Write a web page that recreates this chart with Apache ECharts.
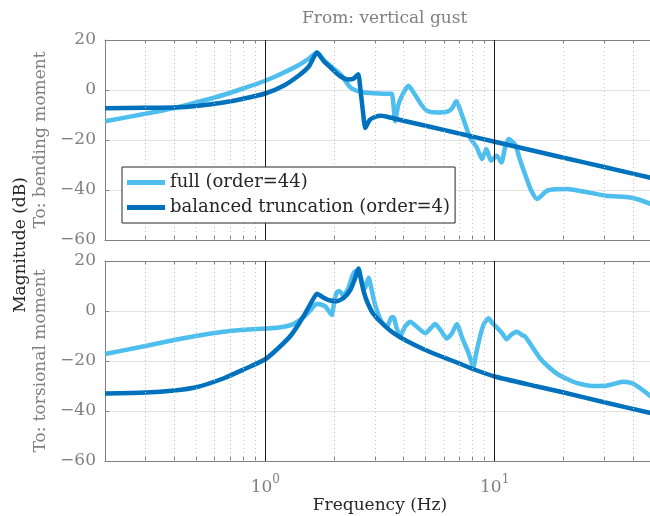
<!DOCTYPE html>
<html>
<head>
<meta charset="utf-8">
<script src="https://cdn.jsdelivr.net/npm/echarts@6/dist/echarts.min.js"></script>
<style>html,body{margin:0;padding:0;background:#fff}#c{width:650px;height:516px}</style>
</head>
<body>
<div id="c"></div>
<script>
// ---- data (frequency in Hz, magnitude in dB) ----
const seriesNames = ['full (order=44)', 'balanced truncation (order=4)'];

const bendFullFreq = [0.2,0.3,0.4,0.5,0.656,0.8,1,1.2,1.4,1.55,1.68,1.8,1.92,2.12,2.35,2.5,2.7,3.0,3.3,3.55,3.62,3.68,3.8,3.98,4.21,4.5,4.8,5.06,5.6,6.18,6.5,6.8,7.2,7.8,8.36,8.8,9.2,9.64,10.2,10.7,11.1,11.5,12.3,12.9,13.6,14.4,15.3,16.9,18.5,20.6,24,30.6,38.9,44,50];
const bendFullDb   = [-12.5,-9.5,-7.2,-5,-2,0.6,3.7,6.9,10,12.6,15,12,9.7,6.4,1,-0.3,-1,-1.3,-1.5,-1.5,-6,-12.5,-6,-1.5,1.7,-2,-6,-8.3,-9,-8.7,-7.5,-4.5,-10,-19,-23,-27.6,-23.6,-28.3,-26.3,-29,-23,-19.6,-22,-28,-34,-40,-43.6,-40.3,-39.7,-39.6,-40.5,-42.3,-43,-44.3,-46.3];

const bendBalFreq = [0.2,0.3,0.4,0.5,0.656,0.8,1,1.2,1.4,1.55,1.68,1.8,1.95,2.1,2.3,2.42,2.54,2.6,2.66,2.73,2.85,3.0,3.2,3.5,4,5,7,10,20,30,50];
const bendBalDb   = [-7.3,-7.1,-7.0,-6.4,-5,-3.5,-1.4,1.7,5.8,9.5,15,11.5,8.5,5.8,4.2,4.5,6.3,0,-8,-15.2,-12,-10.8,-10.3,-11,-12.3,-14.3,-17.4,-20.7,-27.1,-30.8,-35.5];

const torsFullFreq = [0.2,0.3,0.4,0.5,0.656,0.8,1,1.15,1.285,1.38,1.47,1.58,1.68,1.76,1.83,1.9,1.95,2.0,2.05,2.1,2.19,2.3,2.39,2.47,2.55,2.65,2.72,2.82,2.9,3.0,3.1,3.2,3.39,3.55,3.62,3.73,3.87,4.05,4.28,4.6,4.98,5.25,5.5,5.85,6.18,6.5,6.84,7.2,7.7,8.08,8.3,8.7,9.0,9.4,9.8,10.2,10.8,11.3,11.8,12.5,13.1,13.6,14.5,15.8,17.4,19,22,24.5,27,31,36.4,40,44,50];
const torsFullDb   = [-17.2,-14,-11.6,-10,-8.3,-7.5,-7,-6.6,-5.7,-4.3,-2.4,0.5,2.9,2.5,1.8,-0.3,-1.6,4,7.5,8,6.3,9,13.8,16,15.5,11.5,9,13.3,9,3,-1,-4,-6.4,-2.5,-2.5,-6.5,-10.3,-6.5,-4.3,-6.5,-8.9,-7,-5.2,-8,-11,-9,-5.2,-10.5,-17,-22.3,-17,-9,-5,-2.9,-5,-6.5,-9,-11.3,-9.5,-8.3,-9.5,-10.3,-14,-19,-22.8,-25.5,-28.3,-29.5,-30,-29.8,-28.3,-29,-31.5,-35.5];

const torsBalFreq = [0.2,0.3,0.4,0.5,0.656,0.8,1,1.15,1.3,1.47,1.6,1.68,1.78,1.9,2.05,2.2,2.35,2.45,2.55,2.62,2.7,2.8,2.95,3.17,3.5,3.87,4.14,4.9,5.78,6.84,8.2,10,15,20,30,50];
const torsBalDb   = [-33,-32.6,-31.8,-30.5,-27,-23.5,-19.3,-14.5,-9.5,-2,4,6.9,5.5,4.3,3.9,5.3,8.5,12.5,17,12,7,3,-1,-4.2,-7.8,-10.5,-12,-15.3,-18,-20.6,-23.5,-26.2,-30,-32.6,-36.5,-41.2];

const majorFreqs = [1, 10];
const minorFreqs = [0.3,0.4,0.5,0.6,0.7,0.8,0.9,2,3,4,5,6,7,8,9,20,30,40];
const yTicks = [-60, -40, -20, 0, 20];
const panelNames = ['To: bending moment', 'To: torsional moment'];

// ---- styles ----
const FONT = 'DejaVu Serif';
const GRAY = '#808080';
const INK = '#262626';
const LIGHT = '#4DBEEE';
const DARK = '#0072BD';

const zip = (f, d) => f.map((v, i) => [v, d[i]]);
const isPow10 = v => Math.abs(Math.log10(v) - Math.round(Math.log10(v))) < 1e-6;

const grids = [
  {left: 105, width: 550, top: 40, height: 200, outerBoundsMode: 'none', containLabel: false},
  {left: 105, width: 550, top: 261, height: 200, outerBoundsMode: 'none', containLabel: false}
];

function xAxisFor(g, pos, labels) {
  return {
    type: 'log', logBase: 10, gridIndex: g, position: pos, min: 0.2, max: 50,
    axisLine: {show: true, onZero: false, lineStyle: {color: GRAY, width: 1}},
    axisTick: {show: true, inside: true, length: 4, customValues: minorFreqs.concat(majorFreqs), lineStyle: {color: GRAY}},
    splitLine: {show: false},
    axisLabel: {
      show: labels, margin: 13, customValues: majorFreqs,
      formatter: v => isPow10(v) ? '{b|10}{s|' + Math.round(Math.log10(v)) + '}' : '',
      rich: {
        b: {fontFamily: FONT, fontSize: 17, color: GRAY, lineHeight: 22, verticalAlign: 'bottom'},
        s: {fontFamily: FONT, fontSize: 12, color: GRAY, lineHeight: 12, verticalAlign: 'top'}
      }
    },
    name: labels ? 'Frequency (Hz)' : '',
    nameLocation: 'middle', nameGap: 34,
    nameTextStyle: {fontFamily: FONT, fontSize: 17, color: INK}
  };
}

function yAxisFor(g) {
  return {
    type: 'value', gridIndex: g, min: -60, max: 20, interval: 20,
    axisLine: {show: true, lineStyle: {color: GRAY, width: 1}},
    axisTick: {show: true, inside: true, length: 4, lineStyle: {color: GRAY}},
    axisLabel: {
      fontFamily: FONT, fontSize: 17, color: GRAY, margin: 9,
      formatter: v => v < 0 ? '\u2212' + (-v) : String(v)
    },
    splitLine: {show: true, showMinLine: false, showMaxLine: false, lineStyle: {color: '#e2e2e2', width: 1}},
    name: panelNames[g], nameLocation: 'middle', nameGap: 50, nameRotate: 90,
    nameTextStyle: {fontFamily: FONT, fontSize: 17, color: GRAY}
  };
}

function gridLinesSeries(g) {
  return {
    type: 'line', xAxisIndex: g, yAxisIndex: g, data: [], z: 1, silent: true,
    markLine: {
      silent: true, symbol: ['none', 'none'], label: {show: false}, animation: false,
      data: minorFreqs.map(v => ({xAxis: v, lineStyle: {color: '#c4c4c4', width: 1, type: [1, 3]}}))
        .concat(majorFreqs.map(v => ({xAxis: v, lineStyle: {color: '#1a1a1a', width: 1, type: 'solid'}})))
    }
  };
}

function curve(name, color, g, f, d) {
  return {
    name, type: 'line', xAxisIndex: g, yAxisIndex: g, data: zip(f, d),
    showSymbol: false, symbol: 'none', smooth: 0.2, z: 3, clip: true,
    lineStyle: {color, width: 4.5}, itemStyle: {color}
  };
}

const option = {
  animation: false,
  backgroundColor: '#fff',
  title: {
    text: 'From: vertical gust', left: 297, top: 5,
    textStyle: {fontFamily: FONT, fontSize: 17, fontWeight: 'normal', color: GRAY}
  },
  grid: grids,
  xAxis: [xAxisFor(0, 'bottom', false), xAxisFor(1, 'bottom', true), xAxisFor(0, 'top', false), xAxisFor(1, 'top', false)],
  yAxis: [yAxisFor(0), yAxisFor(1)],
  legend: {
    left: 122, top: 167, orient: 'vertical', itemGap: 0, padding: [3, 5, 3, 5],
    borderColor: INK, borderWidth: 1, backgroundColor: '#fff', z: 10,
    icon: 'rect', itemWidth: 38, itemHeight: 5,
    textStyle: {fontFamily: FONT, fontSize: 18, color: INK, lineHeight: 25},
    data: seriesNames
  },
  graphic: [{
    type: 'text', x: 21, y: 245, rotation: Math.PI / 2,
    style: {text: 'Magnitude (dB)', fontFamily: FONT, fontSize: 17, fill: INK, align: 'center', verticalAlign: 'middle'}
  }],
  series: [
    gridLinesSeries(0), gridLinesSeries(1),
    curve(seriesNames[0], LIGHT, 0, bendFullFreq, bendFullDb),
    curve(seriesNames[1], DARK, 0, bendBalFreq, bendBalDb),
    curve(seriesNames[0], LIGHT, 1, torsFullFreq, torsFullDb),
    curve(seriesNames[1], DARK, 1, torsBalFreq, torsBalDb)
  ]
};

const chart = echarts.init(document.getElementById('c'), null, {renderer: 'canvas'});
chart.setOption(option);
</script>
</body>
</html>
